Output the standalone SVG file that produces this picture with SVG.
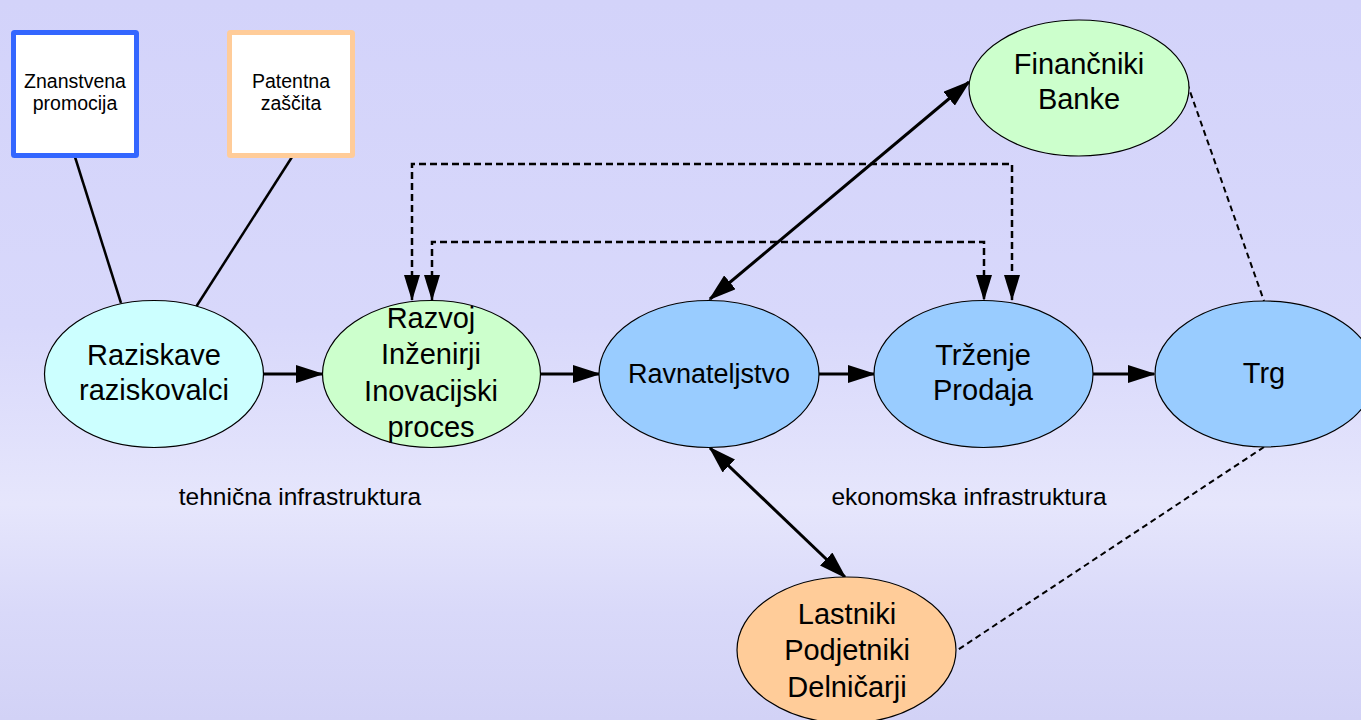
<svg xmlns="http://www.w3.org/2000/svg" width="1361" height="720" viewBox="0 0 1361 720">
<defs>
<linearGradient id="bg" x1="0" y1="0" x2="0" y2="1">
<stop offset="0" stop-color="#d3d3fa"/>
<stop offset="0.45" stop-color="#d8d8fb"/>
<stop offset="0.7" stop-color="#e6e6fc"/>
<stop offset="0.85" stop-color="#d9d9f9"/>
<stop offset="1" stop-color="#d2d2f6"/>
</linearGradient>
<marker id="ah" markerUnits="userSpaceOnUse" markerWidth="28" markerHeight="18" refX="26" refY="9" orient="auto-start-reverse" viewBox="0 0 28 18">
<path d="M0,0 L28,9 L0,18 z" fill="#000"/>
</marker>
<marker id="ahd" markerUnits="userSpaceOnUse" markerWidth="26" markerHeight="16" refX="25" refY="8" orient="auto-start-reverse" viewBox="0 0 26 16">
<path d="M0,0 L26,8 L0,16 z" fill="#000"/>
</marker>
</defs>
<style>
.node{stroke:#000;stroke-width:1.2}
.t{font-family:"Liberation Sans",Arial,sans-serif;fill:#000;text-anchor:middle}
.big{font-size:29px}
.small{font-size:19.5px}
.lbl{font-size:24.5px}
.solid{stroke:#000;stroke-width:3;fill:none}
.thin{stroke:#000;stroke-width:2.5;fill:none}
.dash{stroke:#000;stroke-width:2.5;fill:none;stroke-dasharray:7 4}
.tdash{stroke:#000;stroke-width:2;fill:none;stroke-dasharray:6 4}
</style>
<rect x="0" y="0" width="1361" height="720" fill="url(#bg)"/>

<g id="connectors">
<line class="thin" x1="75" y1="157" x2="121" y2="303"/>
<line class="thin" x1="292" y1="157" x2="196" y2="307"/>
<line class="solid" x1="263" y1="374" x2="322" y2="374" marker-end="url(#ah)"/>
<line class="solid" x1="541" y1="374" x2="599" y2="374" marker-end="url(#ah)"/>
<line class="solid" x1="819" y1="374" x2="874" y2="374" marker-end="url(#ah)"/>
<line class="solid" x1="1093" y1="374" x2="1154" y2="374" marker-end="url(#ah)"/>
<line class="solid" x1="710" y1="299" x2="969" y2="82" marker-start="url(#ah)" marker-end="url(#ah)"/>
<line class="solid" x1="710" y1="448" x2="845" y2="577" marker-start="url(#ah)" marker-end="url(#ah)"/>
<polyline class="dash" points="412,300 412,164 1012,164 1012,300" marker-start="url(#ahd)" marker-end="url(#ahd)"/>
<polyline class="dash" points="432,300 432,242 984,242 984,300" marker-start="url(#ahd)" marker-end="url(#ahd)"/>
<line class="tdash" x1="1187" y1="83" x2="1264" y2="301"/>
<line class="tdash" x1="1264" y1="447" x2="956" y2="651"/>
</g>

<g id="znanstvena">
<rect x="13.5" y="32.5" width="123" height="123" fill="#fff" stroke="#3366ff" stroke-width="5" rx="1"/>
<text class="t small" x="75" y="88">Znanstvena</text>
<text class="t small" x="75" y="110">promocija</text>
</g>
<g id="patentna">
<rect x="229.5" y="32.5" width="123" height="123" fill="#fff" stroke="#ffcc99" stroke-width="5" rx="1"/>
<text class="t small" x="291" y="88">Patentna</text>
<text class="t small" x="291" y="110">zaščita</text>
</g>

<g id="raziskave">
<ellipse class="node" cx="154" cy="374" rx="109.5" ry="73.5" fill="#ccffff"/>
<text class="t big" x="154" y="365">Raziskave</text>
<text class="t big" x="154" y="400">raziskovalci</text>
</g>
<g id="razvoj">
<ellipse class="node" cx="431.5" cy="374" rx="109" ry="73.5" fill="#ccffcc"/>
<text class="t big" x="431" y="328">Razvoj</text>
<text class="t big" x="431" y="364">Inženirji</text>
<text class="t big" x="431" y="401">Inovacijski</text>
<text class="t big" x="431" y="437">proces</text>
</g>
<g id="ravnateljstvo">
<ellipse class="node" cx="709" cy="374" rx="110" ry="73.5" fill="#99ccff"/>
<text class="t" style="font-size:27px" x="709" y="383">Ravnateljstvo</text>
</g>
<g id="trzenje">
<ellipse class="node" cx="983.5" cy="374" rx="109.5" ry="73.5" fill="#99ccff"/>
<text class="t big" x="983" y="365">Trženje</text>
<text class="t big" x="983" y="400">Prodaja</text>
</g>
<g id="trg">
<ellipse class="node" cx="1265" cy="374" rx="110" ry="73" fill="#99ccff"/>
<text class="t big" x="1264" y="383">Trg</text>
</g>
<g id="financniki">
<ellipse class="node" cx="1079" cy="88" rx="110" ry="68" fill="#ccffcc"/>
<text class="t big" x="1079" y="74">Finančniki</text>
<text class="t big" x="1079" y="109">Banke</text>
</g>
<g id="lastniki">
<ellipse class="node" cx="846.5" cy="650" rx="109.5" ry="73" fill="#ffcc99"/>
<text class="t big" x="847" y="624">Lastniki</text>
<text class="t big" x="847" y="660">Podjetniki</text>
<text class="t big" x="847" y="697">Delničarji</text>
</g>

<g id="labels">
<text class="t lbl" x="300" y="505">tehnična infrastruktura</text>
<text class="t lbl" x="969" y="505">ekonomska infrastruktura</text>
</g>
</svg>
